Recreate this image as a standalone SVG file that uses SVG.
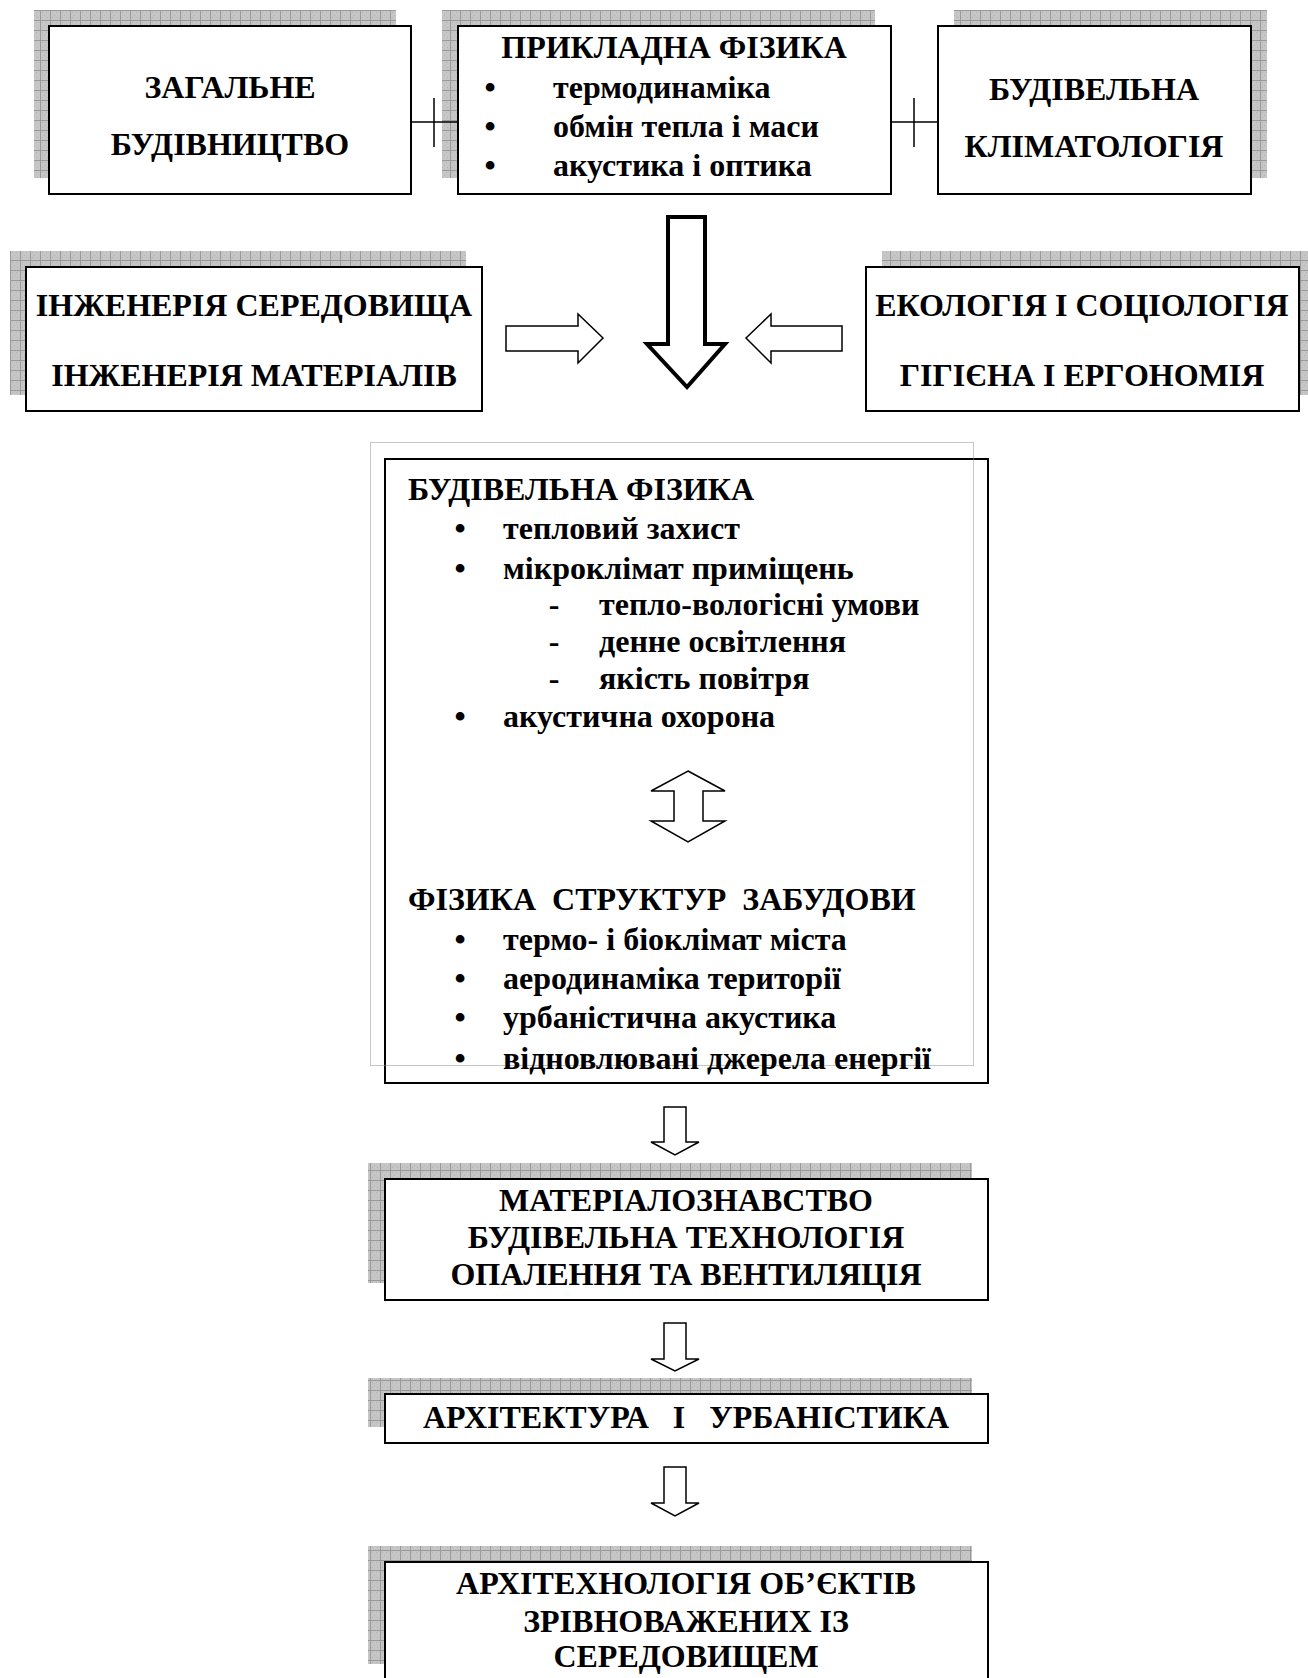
<svg xmlns="http://www.w3.org/2000/svg" width="1308" height="1678" viewBox="0 0 1308 1678">
<defs>
<pattern id="grid" width="10" height="10" patternUnits="userSpaceOnUse">
<rect width="10" height="10" fill="#c6c6c6"/>
<path d="M2 2h1v1h-1zM6 2h1v1h-1zM4 5h1v1h-1zM2 7h1v1h-1zM7 7h1v1h-1z" fill="#b4b4b4"/>
<path d="M0 0.5H10M0.5 0V10" stroke="#999" stroke-width="1" fill="none"/>
</pattern>
<style>
.sh{fill:url(#grid);}
.bx{fill:#fff;stroke:#000;stroke-width:2;}
.t{font-family:"Liberation Serif","Times New Roman",serif;font-weight:bold;font-size:32px;fill:#000;}
.c{text-anchor:middle;}
.ln{stroke:#000;stroke-width:1.5;fill:none;}
.ar{fill:#fff;stroke:#000;stroke-width:1.5;stroke-linejoin:miter;}
.big{fill:#fff;stroke:#000;stroke-width:4;stroke-linejoin:miter;}
.dot{fill:none;stroke:#8c8c8c;stroke-width:1;stroke-dasharray:1 1;}
</style>
</defs>
<rect width="1308" height="1678" fill="#fff"/>

<g id="zagalne">
<rect class="sh" x="34" y="10" width="362" height="168"/>
<rect class="bx" x="49" y="26" width="362" height="168"/>
<text class="t c" x="230" y="98">ЗАГАЛЬНЕ</text>
<text class="t c" x="230" y="155">БУДІВНИЦТВО</text>
</g>

<g id="prykladna">
<rect class="sh" x="442" y="10" width="433" height="168"/>
<rect class="bx" x="458" y="26" width="433" height="168"/>
<text class="t c" x="674" y="58">ПРИКЛАДНА ФІЗИКА</text>
<text class="t c" x="490" y="98">•</text>
<text class="t" x="553" y="98">термодинаміка</text>
<text class="t c" x="490" y="137">•</text>
<text class="t" x="553" y="137">обмін тепла і маси</text>
<text class="t c" x="490" y="176">•</text>
<text class="t" x="553" y="176">акустика і оптика</text>
</g>

<g id="klimatologia">
<rect class="sh" x="954" y="10" width="313" height="168"/>
<rect class="bx" x="938" y="26" width="313" height="168"/>
<text class="t c" x="1094" y="100">БУДІВЕЛЬНА</text>
<text class="t c" x="1094" y="157">КЛІМАТОЛОГІЯ</text>
</g>

<g id="inzheneria">
<rect class="sh" x="10" y="251" width="456" height="144"/>
<rect class="bx" x="26" y="267" width="456" height="144"/>
<text class="t c" x="254" y="316">ІНЖЕНЕРІЯ СЕРЕДОВИЩА</text>
<text class="t c" x="254" y="386">ІНЖЕНЕРІЯ МАТЕРІАЛІВ</text>
</g>

<g id="ekologia">
<rect class="sh" x="882" y="251" width="426" height="144"/>
<rect class="bx" x="866" y="267" width="433" height="144"/>
<text class="t c" x="1082" y="316">ЕКОЛОГІЯ І СОЦІОЛОГІЯ</text>
<text class="t c" x="1082" y="386">ГІГІЄНА І ЕРГОНОМІЯ</text>
</g>

<g id="fizyka">
<rect class="bx" x="385" y="459" width="603" height="624"/>
<rect class="dot" x="370.5" y="442.5" width="603" height="623"/>
<text class="t" x="408" y="500">БУДІВЕЛЬНА ФІЗИКА</text>
<text class="t c" x="460" y="539">•</text>
<text class="t" x="503" y="539">тепловий захист</text>
<text class="t c" x="460" y="579">•</text>
<text class="t" x="503" y="579">мікроклімат приміщень</text>
<text class="t c" x="554" y="615">-</text>
<text class="t" x="599" y="615">тепло-вологісні умови</text>
<text class="t c" x="554" y="652">-</text>
<text class="t" x="599" y="652">денне освітлення</text>
<text class="t c" x="554" y="689">-</text>
<text class="t" x="599" y="689">якість повітря</text>
<text class="t c" x="460" y="727">•</text>
<text class="t" x="503" y="727">акустична охорона</text>
<polygon class="ar" points="688,771 725,791 703,791 703,821 725,821 688,842 651,821 674,821 674,791 651,791"/>
<text class="t" x="408" y="910" xml:space="preserve">ФІЗИКА  СТРУКТУР  ЗАБУДОВИ</text>
<text class="t c" x="460" y="950">•</text>
<text class="t" x="503" y="950">термо- і біоклімат міста</text>
<text class="t c" x="460" y="989">•</text>
<text class="t" x="503" y="989">аеродинаміка території</text>
<text class="t c" x="460" y="1028">•</text>
<text class="t" x="503" y="1028">урбаністична акустика</text>
<text class="t c" x="460" y="1069">•</text>
<text class="t" x="503" y="1069">відновлювані джерела енергії</text>
</g>

<g id="materialoznavstvo">
<rect class="sh" x="368" y="1163" width="604" height="120"/>
<rect class="bx" x="385" y="1179" width="603" height="121"/>
<text class="t c" x="686" y="1211">МАТЕРІАЛОЗНАВСТВО</text>
<text class="t c" x="686" y="1248">БУДІВЕЛЬНА ТЕХНОЛОГІЯ</text>
<text class="t c" x="686" y="1285">ОПАЛЕННЯ ТА ВЕНТИЛЯЦІЯ</text>
</g>

<g id="arkhitektura">
<rect class="sh" x="368" y="1378" width="604" height="49"/>
<rect class="bx" x="385" y="1394" width="603" height="49"/>
<text class="t c" x="686" y="1428" xml:space="preserve">АРХІТЕКТУРА   І   УРБАНІСТИКА</text>
</g>

<g id="arkhitekhnologia">
<rect class="sh" x="368" y="1546" width="604" height="118"/>
<rect class="bx" x="385" y="1562" width="603" height="200"/>
<text class="t c" x="686" y="1594">АРХІТЕХНОЛОГІЯ ОБ’ЄКТІВ</text>
<text class="t c" x="686" y="1632">ЗРІВНОВАЖЕНИХ ІЗ</text>
<text class="t c" x="686" y="1667">СЕРЕДОВИЩЕМ</text>
</g>

<g id="connectors">
<path class="ln" d="M411 122H458M434 98V147"/>
<path class="ln" d="M891 122H938M914 98V147"/>
<polygon class="ar" points="506,326 578,326 578,314 603,338 578,363 578,351 506,351"/>
<polygon class="ar" points="842,326 771,326 771,314 746,338 771,363 771,351 842,351"/>
<polygon class="big" points="668,217 705,217 705,344 725,344 687,387 647,344 668,344"/>
<polygon class="ar" points="664,1107 686,1107 686,1142 699,1142 675,1155 651,1142 664,1142"/>
<polygon class="ar" points="664,1323 686,1323 686,1359 699,1359 675,1371 651,1359 664,1359"/>
<polygon class="ar" points="664,1467 686,1467 686,1503 699,1503 675,1516 651,1503 664,1503"/>
</g>
</svg>
